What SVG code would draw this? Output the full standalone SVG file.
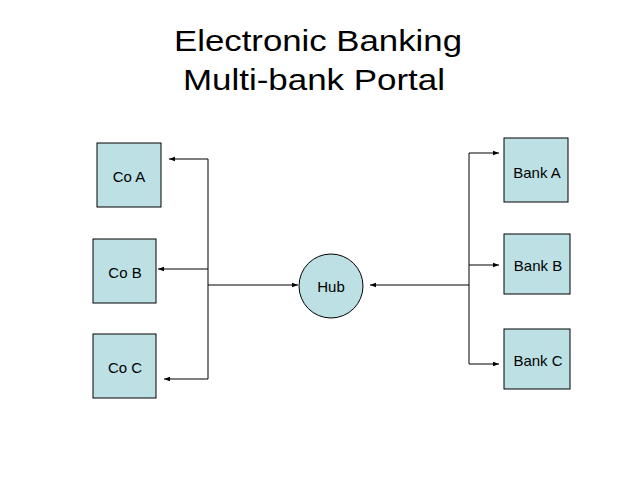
<svg xmlns="http://www.w3.org/2000/svg" width="638" height="479" viewBox="0 0 638 479">
<style>
.box{fill:#bde0e4;stroke:#000;stroke-width:1}
.lbl{font-family:"Liberation Sans",Arial,sans-serif;font-size:15px;fill:#000;text-anchor:middle}
.title{font-family:"Liberation Sans",Arial,sans-serif;font-size:30px;fill:#000}
.con{fill:none;stroke:#000;stroke-width:1}
</style>
<defs>
<marker id="arr" viewBox="0 0 6 6" refX="6" refY="3" markerWidth="6" markerHeight="6" markerUnits="userSpaceOnUse" orient="auto">
<path d="M0,0.8 L6,3 L0,5.2 Z" fill="#000"/>
</marker>
</defs>
<rect width="638" height="479" fill="#fff"/>
<g id="title">
<text class="title" x="174" y="51" textLength="288" lengthAdjust="spacingAndGlyphs">Electronic Banking</text>
<text class="title" x="183" y="90" textLength="262" lengthAdjust="spacingAndGlyphs">Multi-bank Portal</text>
</g>
<g id="connectors">
<path class="con" d="M208,159 V379"/>
<path class="con" d="M208,159 H169" marker-end="url(#arr)"/>
<path class="con" d="M208,269 H158" marker-end="url(#arr)"/>
<path class="con" d="M208,379 H164" marker-end="url(#arr)"/>
<path class="con" d="M208,285 H298" marker-end="url(#arr)"/>
<path class="con" d="M469,153 V364"/>
<path class="con" d="M469,153 H499" marker-end="url(#arr)"/>
<path class="con" d="M469,265 H499" marker-end="url(#arr)"/>
<path class="con" d="M469,364 H499" marker-end="url(#arr)"/>
<path class="con" d="M469,285 H370" marker-end="url(#arr)"/>
</g>
<g id="coA"><rect class="box" x="97" y="143" width="64" height="64"/><text class="lbl" x="129" y="182">Co A</text></g>
<g id="coB"><rect class="box" x="93" y="239" width="63" height="64"/><text class="lbl" x="125" y="278">Co B</text></g>
<g id="coC"><rect class="box" x="93" y="334" width="63" height="64"/><text class="lbl" x="125" y="373">Co C</text></g>
<g id="hub"><circle class="box" cx="331" cy="286" r="32"/><text class="lbl" x="331" y="292">Hub</text></g>
<g id="bankA"><rect class="box" x="504" y="138" width="64" height="64"/><text class="lbl" x="537" y="178">Bank A</text></g>
<g id="bankB"><rect class="box" x="504" y="234" width="66" height="60"/><text class="lbl" x="538" y="271">Bank B</text></g>
<g id="bankC"><rect class="box" x="504" y="329" width="66" height="60"/><text class="lbl" x="538" y="366">Bank C</text></g>
</svg>
